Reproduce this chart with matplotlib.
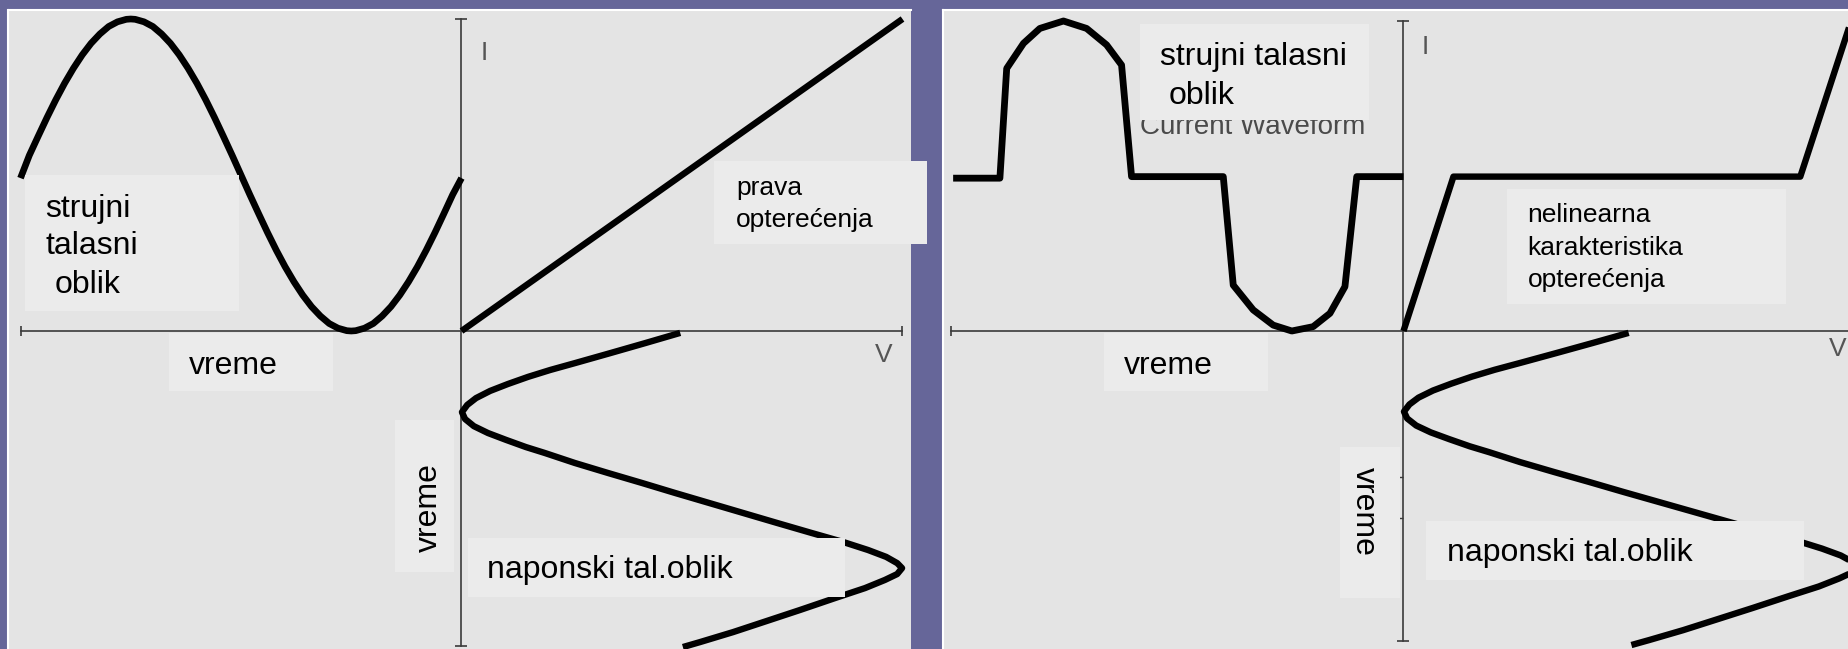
import matplotlib
matplotlib.use('Agg')
import matplotlib.pyplot as plt
from matplotlib.patches import Rectangle

W, H = 1849, 649
BG = '#666699'
PANEL = '#e4e4e4'
BOX = '#ebebeb'
AXC = '#3a3a3a'
FONT = 'Liberation Sans'

# lijevi panel: sinusna struja (vrijeme na -x osi, struja I)
cur_t = [-1.0, -0.98, -0.96, -0.94, -0.92, -0.90, -0.88, -0.86, -0.84, -0.82,
         -0.80, -0.78, -0.76, -0.75, -0.74, -0.72, -0.70, -0.68, -0.66, -0.64,
         -0.62, -0.60, -0.58, -0.56, -0.54, -0.52, -0.50, -0.48, -0.46, -0.44,
         -0.42, -0.40, -0.38, -0.36, -0.34, -0.32, -0.30, -0.28, -0.26, -0.25,
         -0.24, -0.22, -0.20, -0.18, -0.16, -0.14, -0.12, -0.10, -0.08, -0.06,
         -0.04, -0.02, 0.0]
cur_i = [0.49, 0.563, 0.624, 0.684, 0.741, 0.794, 0.842, 0.885, 0.922, 0.952,
         0.976, 0.991, 0.999, 1.0, 0.999, 0.991, 0.976, 0.952, 0.922, 0.885,
         0.842, 0.794, 0.741, 0.684, 0.624, 0.563, 0.50, 0.437, 0.376, 0.316,
         0.259, 0.206, 0.158, 0.115, 0.078, 0.048, 0.024, 0.009, 0.001, 0.0,
         0.001, 0.009, 0.024, 0.048, 0.078, 0.115, 0.158, 0.206, 0.259, 0.316,
         0.376, 0.437, 0.49]

# linearna prava opterecenja
load_v = [0.0, 1.0]
load_i = [0.0, 1.0]

# naponski talasni oblik (napon na x, vrijeme nanize)
volt_v = [0.496, 0.416, 0.337, 0.257, 0.201, 0.151, 0.105, 0.065, 0.033, 0.013,
          0.001, 0.008, 0.028, 0.060, 0.101, 0.146, 0.189, 0.257, 0.332, 0.409,
          0.484, 0.561, 0.638, 0.715, 0.793, 0.865, 0.922, 0.963, 0.988, 0.999,
          0.988, 0.960, 0.915, 0.847, 0.768, 0.691, 0.616, 0.541, 0.502]
volt_t = [-0.006, -0.039, -0.071, -0.103, -0.125, -0.147, -0.170, -0.192, -0.215, -0.237,
          -0.260, -0.282, -0.305, -0.327, -0.349, -0.372, -0.391, -0.423, -0.455, -0.487,
          -0.519, -0.551, -0.583, -0.615, -0.647, -0.676, -0.702, -0.724, -0.744, -0.760,
          -0.779, -0.798, -0.824, -0.856, -0.894, -0.930, -0.965, -0.997, -1.013]

# desni panel: izoblicena struja
dist_t = [-0.992, -0.889, -0.874, -0.837, -0.801, -0.749, -0.698, -0.654, -0.621,
          -0.599, -0.397, -0.375, -0.331, -0.287, -0.246, -0.199, -0.162, -0.129,
          -0.103, 0.0]
dist_i = [0.493, 0.493, 0.847, 0.928, 0.976, 1.0, 0.976, 0.923, 0.858,
          0.498, 0.498, 0.148, 0.068, 0.019, 0.0, 0.014, 0.057, 0.143,
          0.498, 0.498]

# nelinearna karakteristika opterecenja
nl_v = [0.0, 0.110, 0.874, 0.986]
nl_i = [0.0, 0.498, 0.498, 1.0]


fig = plt.figure(figsize=(W / 100, H / 100), dpi=100, facecolor=BG)


def make_panel(box, origin, scale):
    x0, y0, x1, y1 = box
    ox, oy = origin
    sx, sy = scale
    ax = fig.add_axes([x0 / W, (H - y1) / H, (x1 - x0) / W, (y1 - y0) / H])
    ax.set_xlim((x0 - ox) / sx, (x1 - ox) / sx)
    ax.set_ylim((oy - y1) / sy, (oy - y0) / sy)
    ax.set_facecolor(PANEL)
    ax.set_xticks([])
    ax.set_yticks([])
    for name, s in ax.spines.items():
        if name in ('top', 'left'):
            s.set_color('white')
            s.set_linewidth(1.5)
        else:
            s.set_visible(False)
    return ax


def draw_axes(ax, h_ext, v_ext):
    ax.plot(h_ext, [0, 0], color=AXC, lw=1.2, zorder=2)
    ax.plot(h_ext, [0, 0], ls='none', marker='|', ms=7, mew=1.2, color=AXC, zorder=2)
    ax.plot([0, 0], v_ext, color=AXC, lw=1.2, zorder=2)
    ax.plot([0, 0], v_ext, ls='none', marker='_', ms=8, mew=1.2, color=AXC, zorder=2)


def curve(ax, x, y, lw=4.6):
    ax.plot(x, y, color='black', lw=lw, solid_capstyle='butt',
            solid_joinstyle='round', zorder=3)


# lijevi panel
axl = make_panel((8.5, 9.5, 911, 649), (461.5, 331), (441, 312))
draw_axes(axl, [-0.999, 0.999], [1.0, -1.01])
curve(axl, cur_t, cur_i, lw=4.8)
curve(axl, load_v, load_i)
curve(axl, volt_v, volt_t)

# desni panel
axr = make_panel((942.7, 9.5, 1849, 649), (1403.5, 331), (454, 310))
draw_axes(axr, [-0.997, 1.05], [1.0, -1.0])
axr.plot([0, 0], [-0.47, -0.604], ls='none', marker=0, ms=3, mew=1.0, color=AXC)
curve(axr, dist_t, dist_i, lw=4.9)
curve(axr, nl_v, nl_i)
curve(axr, volt_v, volt_t)

# natpisi i pozadine natpisa (pikseli)
ov = fig.add_axes([0, 0, 1, 1], zorder=10)
ov.set_xlim(0, W)
ov.set_ylim(H, 0)
ov.axis('off')

boxes = [(25, 175, 239, 310.5), (169, 333, 333, 391), (713.5, 160.5, 927, 244),
         (395, 420, 454, 572), (468, 538, 845, 597),
         (1140, 24, 1368.5, 119.5), (1507, 188.5, 1786, 303.5),
         (1104, 333, 1267.5, 391), (1340, 447, 1400, 598), (1426, 520.5, 1804, 579.5)]
for x0, y0, x1, y1 in boxes:
    ov.add_patch(Rectangle((x0, y0), x1 - x0, y1 - y0, facecolor=BOX,
                           edgecolor='none', zorder=2))

# napola prekriven engleski natpis
ov.text(1140, 133.5, 'Current Waveform', fontsize=20, family=FONT, color='#4a4a4a',
        va='baseline', ha='left', zorder=1)

labels = [
    ('strujni', 45, 216.5, 23), ('talasni', 45, 254.5, 23), ('oblik', 55, 293, 23),
    ('vreme', 189, 374.5, 23),
    ('prava', 736, 195.5, 19), ('opterećenja', 736, 226.5, 19),
    ('naponski tal.oblik', 487, 578, 23),
    ('strujni talasni', 1160, 65, 23), ('oblik', 1168.5, 103.5, 23),
    ('nelinearna', 1527.5, 222.5, 19), ('karakteristika', 1527.5, 255, 19),
    ('opterećenja', 1527.5, 286.5, 19),
    ('vreme', 1123.5, 374.5, 23),
    ('naponski tal.oblik', 1447, 561.5, 23),
]
for s, x, y, fs in labels:
    ov.text(x, y, s, fontsize=fs, family=FONT, color='black',
            va='baseline', ha='left', zorder=3)

ov.text(437, 507.5, 'vreme', fontsize=23, family=FONT, rotation=90,
        rotation_mode='anchor', ha='center', va='baseline', zorder=3)
ov.text(1356, 511.5, 'vreme', fontsize=23, family=FONT, rotation=270,
        rotation_mode='anchor', ha='center', va='baseline', zorder=3)

axis_names = [('I', 481, 60), ('V', 874.5, 362), ('I', 1421.5, 53.5), ('V', 1829, 356)]
for s, x, y in axis_names:
    ov.text(x, y, s, fontsize=19, family=FONT, color='#555555',
            va='baseline', ha='left', zorder=3)

fig.savefig('out.png', dpi=100, facecolor=BG)
